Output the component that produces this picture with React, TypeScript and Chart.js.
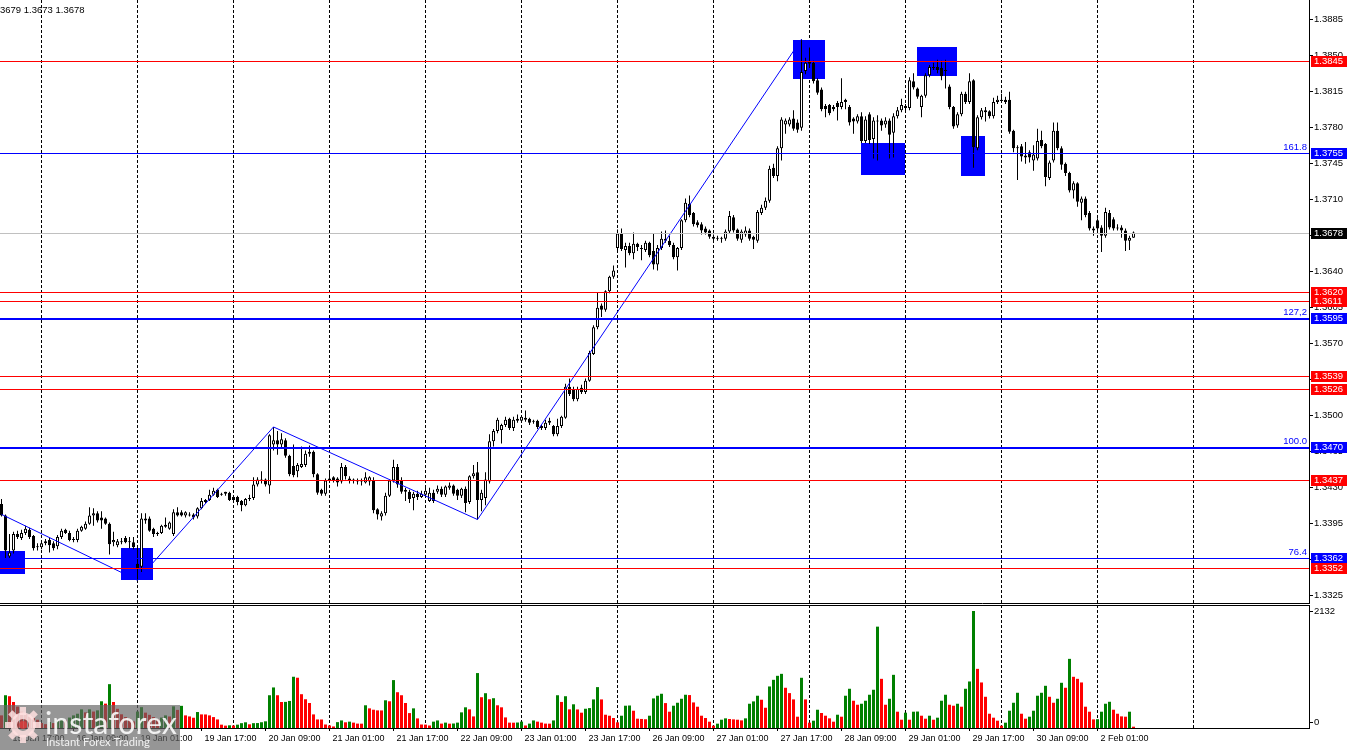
import React, { useEffect, useRef } from 'react';
import { Chart, registerables } from 'chart.js';

Chart.register(...registerables);

// ---------------- data ----------------
const OPEN = [
  1.3414,1.3403,1.3363,1.3369,1.3385,1.3381,1.3386,1.3389,1.3383,1.3372,
  1.3372,1.3376,1.3379,1.3376,1.3373,1.3382,1.3389,1.3386,1.3379,1.3379,
  1.3388,1.3390,1.3395,1.3403,1.3405,1.3401,1.3400,1.3395,1.3377,1.3374,
  1.3378,1.3381,1.3378,1.3377,1.3356,1.3353,1.3398,1.3400,1.3390,1.3385,
  1.3386,1.3392,1.3390,1.3385,1.3406,1.3406,1.3403,1.3404,1.3404,1.3402,
  1.3410,1.3416,1.3418,1.3423,1.3428,1.3424,1.3426,1.3425,1.3421,1.3421,
  1.3417,1.3413,1.3419,1.3420,1.3433,1.3437,1.3438,1.3432,1.3472,1.3476,
  1.3472,1.3476,1.3461,1.3451,1.3446,1.3450,1.3452,1.3463,1.3465,1.3443,
  1.3428,1.3424,1.3437,1.3440,1.3439,1.3436,1.3450,1.3439,1.3437,1.3437,
  1.3436,1.3435,1.3436,1.3437,1.3409,1.3402,1.3405,1.3422,1.3437,1.3450,
  1.3437,1.3428,1.3426,1.3420,1.3424,1.3421,1.3423,1.3417,1.3425,1.3426,
  1.3429,1.3423,1.3430,1.3432,1.3428,1.3422,1.3429,1.3416,1.3441,1.3445,
  1.3418,1.3420,1.3436,1.3475,1.3485,1.3486,1.3491,1.3497,1.3488,1.3497,
  1.3495,1.3498,1.3497,1.3494,1.3495,1.3490,1.3488,1.3495,1.3490,1.3482,
  1.3490,1.3498,1.3528,1.3526,1.3516,1.3527,1.3523,1.3534,1.3560,1.3586,
  1.3607,1.3603,1.3621,1.3635,1.3663,1.3677,1.3661,1.3665,1.3658,1.3667,
  1.3663,1.3661,1.3668,1.3660,1.3647,1.3663,1.3672,1.3670,1.3666,1.3654,
  1.3663,1.3690,1.3706,1.3697,1.3688,1.3686,1.3682,1.3680,1.3674,1.3673,
  1.3672,1.3672,1.3679,1.3693,1.3681,1.3671,1.3676,1.3680,1.3674,1.3670,
  1.3697,1.3702,1.3709,1.3741,1.3733,1.3760,1.3783,1.3783,1.3789,1.3785,
  1.3780,1.3835,1.3844,1.3843,1.3826,1.3817,1.3801,1.3802,1.3800,1.3804,
  1.3800,1.3807,1.3800,1.3789,1.3786,1.3791,1.3767,1.3793,1.3769,1.3786,
  1.3787,1.3783,1.3787,1.3775,1.3791,1.3797,1.3801,1.3799,1.3825,1.3818,
  1.3800,1.3811,1.3831,1.3838,1.3839,1.3838,1.3836,1.3820,1.3800,1.3782,
  1.3793,1.3813,1.3805,1.3826,1.3760,1.3790,1.3797,1.3796,1.3791,1.3805,
  1.3807,1.3807,1.3807,1.3777,1.3761,1.3762,1.3753,1.3756,1.3748,1.3750,
  1.3768,1.3764,1.3731,1.3748,1.3777,1.3760,1.3745,1.3736,1.3719,1.3726,
  1.3707,1.3711,1.3697,1.3682,1.3690,1.3683,1.3675,1.3697,1.3691,1.3683,
  1.3683,1.3680,1.3670,1.3673,
];
const HIGH = [
  1.3419,1.3404,1.3385,1.3387,1.3388,1.3389,1.3393,1.3391,1.3384,1.3376,
  1.3378,1.3380,1.3381,1.3378,1.3384,1.3390,1.3390,1.3388,1.3382,1.3390,
  1.3393,1.3397,1.3411,1.3410,1.3407,1.3407,1.3401,1.3396,1.3387,1.3380,
  1.3381,1.3383,1.3382,1.3382,1.3372,1.3405,1.3405,1.3402,1.3391,1.3387,
  1.3394,1.3401,1.3397,1.3409,1.3411,1.3408,1.3407,1.3406,1.3405,1.3411,
  1.3420,1.3419,1.3428,1.3430,1.3429,1.3425,1.3426,1.3426,1.3422,1.3422,
  1.3418,1.3420,1.3423,1.3440,1.3440,1.3446,1.3439,1.3482,1.3489,1.3485,
  1.3483,1.3478,1.3462,1.3472,1.3454,1.3470,1.3466,1.3471,1.3466,1.3444,
  1.3429,1.3439,1.3445,1.3441,1.3440,1.3454,1.3452,1.3441,1.3439,1.3439,
  1.3439,1.3445,1.3441,1.3440,1.3410,1.3407,1.3425,1.3438,1.3457,1.3453,
  1.3440,1.3430,1.3428,1.3426,1.3427,1.3427,1.3430,1.3430,1.3428,1.3432,
  1.3431,1.3432,1.3435,1.3433,1.3429,1.3430,1.3431,1.3442,1.3452,1.3455,
  1.3428,1.3445,1.3482,1.3487,1.3498,1.3492,1.3499,1.3498,1.3499,1.3501,
  1.3500,1.3505,1.3498,1.3496,1.3496,1.3491,1.3496,1.3498,1.3491,1.3497,
  1.3500,1.3531,1.3536,1.3528,1.3528,1.3530,1.3536,1.3563,1.3588,1.3620,
  1.3609,1.3622,1.3636,1.3646,1.3681,1.3682,1.3668,1.3668,1.3678,1.3668,
  1.3666,1.3670,1.3669,1.3677,1.3666,1.3679,1.3680,1.3675,1.3668,1.3664,
  1.3691,1.3711,1.3714,1.3698,1.3690,1.3688,1.3684,1.3681,1.3676,1.3675,
  1.3674,1.3681,1.3699,1.3695,1.3682,1.3681,1.3684,1.3682,1.3675,1.3700,
  1.3705,1.3712,1.3743,1.3745,1.3762,1.3790,1.3789,1.3790,1.3797,1.3788,
  1.3866,1.3848,1.3858,1.3845,1.3828,1.3819,1.3803,1.3803,1.3802,1.3806,
  1.3828,1.3808,1.3802,1.3790,1.3793,1.3795,1.3791,1.3795,1.3790,1.3792,
  1.3789,1.3790,1.3789,1.3794,1.3800,1.3808,1.3803,1.3829,1.3833,1.3819,
  1.3812,1.3833,1.3841,1.3843,1.3846,1.3845,1.3846,1.3822,1.3801,1.3795,
  1.3815,1.3815,1.3833,1.3827,1.3792,1.3799,1.3800,1.3797,1.3809,1.3811,
  1.3813,1.3810,1.3815,1.3778,1.3763,1.3764,1.3766,1.3758,1.3763,1.3779,
  1.3777,1.3765,1.3748,1.3785,1.3785,1.3762,1.3746,1.3737,1.3728,1.3727,
  1.3713,1.3713,1.3699,1.3684,1.3692,1.3685,1.3702,1.3700,1.3693,1.3686,
  1.3685,1.3682,1.3675,1.3679,
];
const LOW = [
  1.3402,1.3361,1.3361,1.3366,1.3380,1.3379,1.3384,1.3380,1.3369,1.3369,
  1.3370,1.3374,1.3367,1.3369,1.3370,1.3380,1.3385,1.3378,1.3377,1.3377,
  1.3387,1.3389,1.3394,1.3393,1.3396,1.3390,1.3394,1.3365,1.3373,1.3372,
  1.3375,1.3376,1.3371,1.3370,1.3340,1.3348,1.3395,1.3387,1.3382,1.3383,
  1.3385,1.3391,1.3389,1.3383,1.3402,1.3402,1.3401,1.3402,1.3399,1.3400,
  1.3409,1.3415,1.3417,1.3422,1.3420,1.3422,1.3422,1.3417,1.3416,1.3413,
  1.3407,1.3412,1.3417,1.3418,1.3431,1.3434,1.3431,1.3424,1.3466,1.3462,
  1.3468,1.3459,1.3441,1.3440,1.3440,1.3449,1.3450,1.3460,1.3440,1.3423,
  1.3422,1.3422,1.3435,1.3435,1.3431,1.3434,1.3438,1.3434,1.3434,1.3433,
  1.3432,1.3434,1.3432,1.3405,1.3399,1.3398,1.3403,1.3421,1.3435,1.3430,
  1.3424,1.3417,1.3415,1.3408,1.3418,1.3420,1.3422,1.3416,1.3415,1.3424,
  1.3421,1.3421,1.3428,1.3422,1.3418,1.3420,1.3406,1.3414,1.3439,1.3399,
  1.3407,1.3413,1.3434,1.3470,1.3483,1.3473,1.3489,1.3486,1.3485,1.3493,
  1.3494,1.3494,1.3491,1.3492,1.3487,1.3486,1.3486,1.3491,1.3480,1.3480,
  1.3488,1.3497,1.3519,1.3514,1.3514,1.3521,1.3521,1.3533,1.3559,1.3584,
  1.3596,1.3601,1.3619,1.3633,1.3661,1.3660,1.3644,1.3656,1.3652,1.3660,
  1.3651,1.3659,1.3654,1.3642,1.3641,1.3661,1.3668,1.3664,1.3652,1.3641,
  1.3661,1.3688,1.3693,1.3684,1.3683,1.3676,1.3676,1.3672,1.3670,1.3670,
  1.3668,1.3670,1.3677,1.3678,1.3670,1.3668,1.3674,1.3670,1.3662,1.3668,
  1.3695,1.3700,1.3707,1.3731,1.3728,1.3748,1.3774,1.3781,1.3777,1.3775,
  1.3777,1.3832,1.3838,1.3823,1.3812,1.3796,1.3790,1.3792,1.3796,1.3787,
  1.3798,1.3798,1.3782,1.3774,1.3784,1.3765,1.3765,1.3764,1.3750,1.3748,
  1.3777,1.3780,1.3750,1.3751,1.3789,1.3795,1.3796,1.3797,1.3817,1.3808,
  1.3790,1.3809,1.3829,1.3836,1.3833,1.3826,1.3818,1.3798,1.3779,1.3780,
  1.3791,1.3803,1.3803,1.3741,1.3758,1.3788,1.3786,1.3789,1.3789,1.3803,
  1.3805,1.3803,1.3774,1.3756,1.3729,1.3747,1.3745,1.3746,1.3738,1.3748,
  1.3760,1.3723,1.3729,1.3746,1.3758,1.3739,1.3733,1.3717,1.3711,1.3703,
  1.3690,1.3693,1.3680,1.3675,1.3680,1.3659,1.3673,1.3681,1.3680,1.3680,
  1.3673,1.3660,1.3661,1.3673,
];
const CLOSE = [
  1.3403,1.3369,1.3367,1.3385,1.3382,1.3386,1.3390,1.3382,1.3371,1.3373,
  1.3376,1.3378,1.3374,1.3371,1.3382,1.3388,1.3386,1.3379,1.3380,1.3388,
  1.3392,1.3395,1.3403,1.3405,1.3398,1.3398,1.3395,1.3375,1.3379,1.3378,
  1.3377,1.3377,1.3377,1.3372,1.3351,1.3400,1.3400,1.3388,1.3385,1.3386,
  1.3393,1.3394,1.3396,1.3406,1.3403,1.3403,1.3406,1.3403,1.3401,1.3410,
  1.3417,1.3418,1.3423,1.3427,1.3421,1.3423,1.3424,1.3418,1.3418,1.3416,
  1.3413,1.3419,1.3420,1.3433,1.3438,1.3438,1.3433,1.3481,1.3476,1.3472,
  1.3477,1.3461,1.3443,1.3442,1.3452,1.3453,1.3463,1.3465,1.3443,1.3425,
  1.3424,1.3437,1.3439,1.3437,1.3435,1.3450,1.3441,1.3437,1.3438,1.3436,
  1.3437,1.3440,1.3440,1.3408,1.3404,1.3405,1.3422,1.3437,1.3450,1.3433,
  1.3426,1.3426,1.3419,1.3424,1.3421,1.3424,1.3427,1.3425,1.3417,1.3429,
  1.3423,1.3431,1.3432,1.3424,1.3422,1.3429,1.3415,1.3441,1.3444,1.3418,
  1.3425,1.3438,1.3475,1.3485,1.3496,1.3491,1.3496,1.3488,1.3496,1.3495,
  1.3499,1.3496,1.3493,1.3495,1.3489,1.3488,1.3493,1.3493,1.3482,1.3490,
  1.3499,1.3528,1.3521,1.3516,1.3526,1.3523,1.3534,1.3561,1.3586,1.3605,
  1.3603,1.3621,1.3635,1.3641,1.3677,1.3662,1.3665,1.3658,1.3667,1.3664,
  1.3662,1.3668,1.3656,1.3647,1.3663,1.3672,1.3670,1.3666,1.3654,1.3663,
  1.3690,1.3707,1.3695,1.3686,1.3685,1.3680,1.3678,1.3674,1.3672,1.3672,
  1.3673,1.3679,1.3694,1.3680,1.3672,1.3679,1.3680,1.3672,1.3671,1.3698,
  1.3702,1.3709,1.3740,1.3733,1.3760,1.3788,1.3787,1.3788,1.3779,1.3778,
  1.3834,1.3843,1.3842,1.3825,1.3814,1.3798,1.3798,1.3794,1.3798,1.3800,
  1.3805,1.3805,1.3785,1.3786,1.3791,1.3767,1.3788,1.3768,1.3787,1.3787,
  1.3782,1.3787,1.3773,1.3791,1.3797,1.3802,1.3799,1.3826,1.3819,1.3810,
  1.3811,1.3831,1.3839,1.3839,1.3836,1.3830,1.3835,1.3800,1.3781,1.3793,
  1.3813,1.3805,1.3825,1.3761,1.3790,1.3797,1.3795,1.3791,1.3805,1.3807,
  1.3806,1.3805,1.3776,1.3760,1.3760,1.3752,1.3751,1.3751,1.3754,1.3767,
  1.3762,1.3732,1.3746,1.3777,1.3760,1.3744,1.3736,1.3719,1.3726,1.3708,
  1.3711,1.3695,1.3682,1.3680,1.3682,1.3675,1.3698,1.3683,1.3682,1.3682,
  1.3680,1.3670,1.3673,1.3678,
];
const VOLUME = [
  230,597,579,474,390,300,250,200,180,150,
  90,70,110,90,130,160,140,190,230,260,
  340,285,340,300,322,487,444,799,474,350,
  250,200,170,120,300,380,280,240,200,160,
  190,230,210,395,330,404,230,211,187,291,
  248,247,230,199,156,61,43,49,45,61,
  88,104,67,88,90,105,122,597,739,597,
  474,476,493,934,916,616,524,456,248,156,
  155,64,46,28,107,138,104,116,98,80,
  79,414,358,333,321,320,505,487,873,652,
  597,456,272,358,175,64,62,46,116,138,
  80,98,79,82,98,285,377,340,211,1001,
  561,634,524,543,414,377,193,98,97,100,
  116,46,80,138,116,98,80,79,138,597,
  475,579,340,432,338,279,351,363,521,745,
  521,242,224,182,103,224,406,410,315,170,
  165,160,224,539,588,624,454,297,406,460,
  533,606,600,466,388,224,182,115,42,79,
  151,176,164,157,151,139,176,442,485,588,
  515,369,757,878,951,987,733,636,521,206,
  915,521,97,133,333,273,224,176,115,242,
  206,588,715,497,424,442,497,606,697,1847,
  896,424,533,969,297,151,279,151,297,300,
  224,170,224,151,188,497,606,424,406,442,
  388,715,848,2132,1078,830,569,260,188,133,
  42,97,315,460,642,260,170,206,315,588,
  642,769,569,460,533,824,733,1260,933,896,
  830,388,297,157,160,297,442,478,333,260,
  212,206,297,24,
];

const PRICE_TICKS = [1.3325,1.3360,1.3395,1.3430,1.3465,1.3500,1.3535,1.3570,1.3605,1.3640,1.3675,1.3710,1.3745,1.3780,1.3815,1.3850,1.3885];
const GRID_INDEX = [10,34,58,82,106,130,154,178,202,226,250,274,298];
const TIME_INDEX = [2,18,34,50,66,82,98,114,130,146,162,178,194,210,226,242,258,274];
const TIME_LABELS = ['15 Jan 17:00','16 Jan 09:00','19 Jan 01:00','19 Jan 17:00','20 Jan 09:00','21 Jan 01:00','21 Jan 17:00','22 Jan 09:00','23 Jan 01:00','23 Jan 17:00','26 Jan 09:00','27 Jan 01:00','27 Jan 17:00','28 Jan 09:00','29 Jan 01:00','29 Jan 17:00','30 Jan 09:00','2 Feb 01:00'];

const RED_LEVELS = [1.3845,1.3620,1.3611,1.3539,1.3526,1.3437,1.3352];
const BLUE_LEVELS = [1.3755,1.3595,1.3470,1.3362];
const FIBO_LABELS = ['161.8','127,2','100.0','76.4'];
const CURRENT_PRICE = 1.3678;

const ZIGZAG_INDEX = [0,34,68,119,200];
const ZIGZAG_PRICE = [1.3404,1.3340,1.3489,1.3399,1.3866];

const BOX_START = [-0.4,29.9,197.9,214.9,228.9,239.9];
const BOX_END = [5.9,37.9,205.9,225.9,238.9,245.9];
const BOX_HIGH = [1.3368,1.3371,1.3865,1.3765,1.3858,1.3772];
const BOX_LOW = [1.3346,1.3340,1.3827,1.3734,1.3830,1.3733];

const VOL_LABEL_MAX = 2132;
const HEADER_TEXT = '3679 1.3673 1.3678';

// ---------------- layout / style ----------------
const X_MIN = -0.375;
const X_MAX = 326.875;
const Y_MIN = 1.331785;
const Y_MAX = 1.39041;
const VOL_AXIS_MAX = 2241.4;
const FONT = '"Liberation Sans", Arial, sans-serif';
const BLUE_WIDTHS = [1, 2, 2, 1];
const AXIS_W = 41;

const noPad = (s: any) => { s.paddingLeft = 0; s.paddingRight = 0; s.paddingTop = 0; s.paddingBottom = 0; };

const priceOverlay = {
  id: 'priceOverlay',
  beforeDatasetsDraw(chart: any) {
    const { ctx, scales: { x, y } } = chart;
    ctx.save();
    ctx.fillStyle = '#0000ff';
    for (let k = 0; k < BOX_START.length; k++) {
      const x0 = Math.round(x.getPixelForValue(BOX_START[k]));
      const x1 = Math.round(x.getPixelForValue(BOX_END[k]));
      const y0 = Math.round(y.getPixelForValue(BOX_HIGH[k]));
      const y1 = Math.round(y.getPixelForValue(BOX_LOW[k]));
      ctx.fillRect(Math.max(x0, 0), y0, x1 - Math.max(x0, 0), y1 - y0);
    }
    ctx.restore();
  },
  afterDatasetsDraw(chart: any) {
    const { ctx, chartArea: a, scales: { y } } = chart;
    ctx.save();
    const hline = (v: number, color: string, w: number) => {
      ctx.fillStyle = color;
      ctx.fillRect(a.left, Math.round(y.getPixelForValue(v)), a.right - a.left, w);
    };
    hline(CURRENT_PRICE, '#c0c0c0', 1);
    RED_LEVELS.forEach((v) => hline(v, '#ff0000', 1));
    BLUE_LEVELS.forEach((v, k) => hline(v, '#0000ff', BLUE_WIDTHS[k]));
    ctx.restore();
  },
  afterDraw(chart: any) {
    const { ctx, chartArea: a, scales: { y } } = chart;
    ctx.save();
    ctx.font = `9.5px ${FONT}`;
    // fibo labels
    ctx.fillStyle = '#0000ff';
    ctx.textAlign = 'right';
    ctx.textBaseline = 'bottom';
    BLUE_LEVELS.forEach((v, k) => {
      ctx.fillText(FIBO_LABELS[k], a.right - 2, Math.round(y.getPixelForValue(v)) - 1);
    });
    // price tags on the axis
    const tags: { v: number; bg: string }[] = [];
    RED_LEVELS.forEach((v) => tags.push({ v, bg: '#ff0000' }));
    BLUE_LEVELS.forEach((v) => tags.push({ v, bg: '#0000ff' }));
    tags.push({ v: CURRENT_PRICE, bg: '#000000' });
    tags.sort((p, q) => q.v - p.v);
    ctx.textAlign = 'left';
    ctx.textBaseline = 'middle';
    tags.forEach((t) => {
      const r = Math.round(y.getPixelForValue(t.v));
      ctx.fillStyle = t.bg;
      ctx.fillRect(a.right + 2, r - 5, 36, 11);
      ctx.fillStyle = '#ffffff';
      ctx.fillText(t.v.toFixed(4), a.right + 5, r + 0.5);
    });
    // header
    ctx.fillStyle = '#000';
    ctx.fillText(HEADER_TEXT, 0, 10);
    ctx.restore();
  },
};

const volumeOverlay = {
  id: 'volumeOverlay',
  afterDraw(chart: any) {
    const { ctx, chartArea: a, scales: { y } } = chart;
    ctx.save();
    ctx.fillStyle = '#000';
    ctx.fillRect(0, a.top, a.right, 1);
    ctx.font = `9.5px ${FONT}`;
    ctx.textAlign = 'left';
    ctx.textBaseline = 'middle';
    const yMax = Math.round(y.getPixelForValue(VOL_LABEL_MAX));
    const yZero = Math.round(y.getPixelForValue(0)) - 6;
    ctx.fillRect(a.right, yMax, 4, 1);
    ctx.fillRect(a.right, yZero, 4, 1);
    ctx.fillText(String(VOL_LABEL_MAX), a.right + 5, yMax + 0.5);
    ctx.fillText('0', a.right + 5, yZero + 0.5);

    // watermark
    const top = 101;
    const H = chart.height;
    ctx.fillStyle = 'rgba(100,100,100,0.68)';
    ctx.fillRect(0, top, 180, H - top);
    ctx.save();
    ctx.translate(23, top + 20);
    ctx.fillStyle = 'rgba(255,225,225,0.85)';
    for (let k = 0; k < 8; k++) {
      ctx.save();
      ctx.rotate((k * Math.PI) / 4);
      ctx.fillRect(-3, -18, 6, 8);
      ctx.restore();
    }
    ctx.beginPath();
    ctx.arc(0, 0, 12.5, 0, Math.PI * 2);
    ctx.arc(0, 0, 6, 0, Math.PI * 2, true);
    ctx.fill();
    ctx.fillStyle = 'rgba(230,60,60,0.7)';
    ctx.beginPath();
    ctx.arc(0, 0, 4, 0, Math.PI * 2);
    ctx.fill();
    ctx.restore();
    ctx.fillStyle = 'rgba(255,255,255,0.88)';
    ctx.textBaseline = 'alphabetic';
    ctx.font = '30px Lato, "Open Sans", sans-serif';
    const w1 = ctx.measureText('instaforex').width || 130;
    ctx.font = `${(30 * 132) / w1}px Lato, "Open Sans", sans-serif`;
    ctx.fillText('instaforex', 45, top + 29);
    ctx.font = '11px Lato, "Open Sans", sans-serif';
    const w2 = ctx.measureText('Instant Forex Trading').width || 105;
    ctx.font = `${(11 * 104) / w2}px Lato, "Open Sans", sans-serif`;
    ctx.fillText('Instant Forex Trading', 46, top + 41);
    ctx.restore();
  },
};

const AXIS_TICKS = Array.from(new Set([...GRID_INDEX, ...TIME_INDEX])).sort((p, q) => p - q);
const isGrid = (v: any) => GRID_INDEX.indexOf(Math.round(Number(v))) >= 0;
const labelOf = (v: any) => {
  const k = TIME_INDEX.indexOf(Math.round(Number(v)));
  return k >= 0 ? TIME_LABELS[k] : '';
};

export default function App() {
  const priceRef = useRef<HTMLCanvasElement>(null);
  const volRef = useRef<HTMLCanvasElement>(null);

  useEffect(() => {
    const priceChart = new Chart(priceRef.current as HTMLCanvasElement, {
      type: 'bar',
      data: {
        datasets: [
          {
            type: 'line',
            label: 'zigzag',
            data: ZIGZAG_INDEX.map((x, k) => ({ x, y: ZIGZAG_PRICE[k] })),
            borderColor: '#0000ff',
            borderWidth: 1,
            pointRadius: 0,
            tension: 0,
            fill: false,
            order: 0,
          } as any,
          {
            label: 'body',
            data: OPEN.map((o, i) => ({ x: i, y: [o, CLOSE[i]] })),
            backgroundColor: OPEN.map((o, i) => (CLOSE[i] >= o ? '#ffffff' : '#000000')),
            borderColor: '#000000',
            borderWidth: 1,
            borderSkipped: false,
            barThickness: 3,
            grouped: false,
            inflateAmount: 0,
            order: 1,
          } as any,
          {
            label: 'wick',
            data: HIGH.map((h, i) => ({ x: i, y: [LOW[i], h] })),
            backgroundColor: '#000000',
            borderWidth: 0,
            barThickness: 1,
            grouped: false,
            inflateAmount: 0,
            order: 2,
          } as any,
        ],
      },
      options: {
        responsive: false,
        animation: false,
        devicePixelRatio: 1,
        events: [],
        layout: { padding: { top: 0, left: 0, right: 0, bottom: 1 }, autoPadding: false },
        plugins: { legend: { display: false }, tooltip: { enabled: false } },
        scales: {
          x: {
            type: 'linear',
            min: X_MIN,
            max: X_MAX,
            offset: false,
            bounds: 'data',
            afterBuildTicks: (s: any) => { s.ticks = GRID_INDEX.map((v) => ({ value: v })); },
            afterFit: (s: any) => { s.height = 0; noPad(s); },
            ticks: { display: false },
            grid: { display: true, offset: false, color: '#000', lineWidth: 1, drawTicks: false, drawOnChartArea: true },
            border: { display: true, color: '#000', dash: [3, 2] },
          },
          y: {
            type: 'linear',
            position: 'right',
            min: Y_MIN,
            max: Y_MAX,
            bounds: 'data',
            afterBuildTicks: (s: any) => { s.ticks = PRICE_TICKS.map((v) => ({ value: v })); },
            afterFit: (s: any) => { s.width = AXIS_W; noPad(s); },
            ticks: {
              autoSkip: false,
              color: '#000',
              padding: 1,
              font: { family: FONT, size: 9.5 },
              callback: (v: any) => Number(v).toFixed(4),
            },
            grid: { drawOnChartArea: false, drawTicks: true, tickLength: 4, color: '#000', tickColor: '#000' },
            border: { display: true, color: '#000' },
          },
        },
      } as any,
      plugins: [priceOverlay],
    });

    const volChart = new Chart(volRef.current as HTMLCanvasElement, {
      type: 'bar',
      data: {
        datasets: [
          {
            label: 'volume',
            data: VOLUME.map((v, i) => ({ x: i, y: v })),
            backgroundColor: VOLUME.map((v, i) => (i > 0 && v > VOLUME[i - 1] ? '#008000' : '#ff0000')),
            borderWidth: 0,
            barThickness: 3,
            inflateAmount: 0,
          } as any,
        ],
      },
      options: {
        responsive: false,
        animation: false,
        devicePixelRatio: 1,
        events: [],
        layout: { padding: { top: 1, left: 0, right: 0, bottom: 0 }, autoPadding: false },
        plugins: { legend: { display: false }, tooltip: { enabled: false } },
        scales: {
          x: {
            type: 'linear',
            min: X_MIN,
            max: X_MAX,
            offset: false,
            bounds: 'data',
            afterBuildTicks: (s: any) => { s.ticks = AXIS_TICKS.map((v) => ({ value: v })); },
            afterFit: (s: any) => { s.height = 22; noPad(s); },
            ticks: {
              autoSkip: false,
              maxRotation: 0,
              minRotation: 0,
              align: 'start',
              labelOffset: 3,
              padding: 2,
              color: '#000',
              font: { family: FONT, size: 9 },
              callback: (v: any) => labelOf(v),
            },
            grid: {
              offset: false,
              drawOnChartArea: true,
              drawTicks: true,
              tickLength: 3,
              lineWidth: 1,
              tickWidth: 1,
              color: (c: any) => (c.tick && isGrid(c.tick.value) ? '#000' : 'rgba(0,0,0,0)'),
              tickColor: (c: any) => (c.tick && labelOf(c.tick.value) ? '#000' : 'rgba(0,0,0,0)'),
            },
            border: { display: true, color: '#000', dash: [3, 2] },
          },
          y: {
            type: 'linear',
            position: 'right',
            min: 0,
            max: VOL_AXIS_MAX,
            bounds: 'data',
            afterFit: (s: any) => { s.width = AXIS_W; noPad(s); },
            ticks: { display: false },
            grid: { display: false },
            border: { display: true, color: '#000' },
          },
        },
      } as any,
      plugins: [volumeOverlay],
    });

    return () => {
      priceChart.destroy();
      volChart.destroy();
    };
  }, []);

  return (
    <div style={{ position: 'fixed', left: 0, top: 0, width: 1350, height: 750, background: '#ffffff', overflow: 'hidden' }}>
      <canvas ref={priceRef} width={1350} height={604} style={{ position: 'absolute', left: 0, top: 0, width: 1350, height: 604 }} />
      <canvas ref={volRef} width={1350} height={146} style={{ position: 'absolute', left: 0, top: 604, width: 1350, height: 146 }} />
    </div>
  );
}
